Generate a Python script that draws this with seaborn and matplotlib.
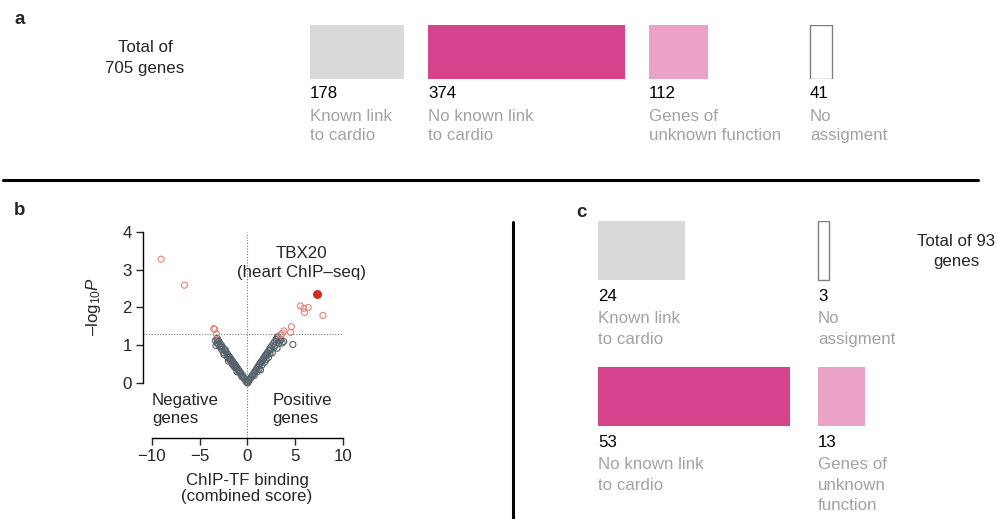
import numpy as np
import matplotlib.pyplot as plt
import seaborn as sns
from matplotlib.lines import Line2D

# ---- data ----
# panel a: all 705 genes
a_total = 705
a_counts = [178, 374, 112, 41]
a_kinds = ['known', 'noknown', 'unknown', 'none']
a_labels = ['Known link\nto cardio', 'No known link\nto cardio',
            'Genes of\nunknown function', 'No\nassigment']

# panel c: 93 genes
c_total = 93
c_counts = [24, 3, 53, 13]
c_kinds = ['known', 'none', 'noknown', 'unknown']
c_labels = ['Known link\nto cardio', 'No\nassigment',
            'No known link\nto cardio', 'Genes of\nunknown\nfunction']

# panel b: volcano (combined score, -log10 P)
gray_x = [0.0, -0.05, -0.15, -0.25, -0.35, -0.45, -0.55, -0.65, -0.75, -0.85, -0.95,
          -1.05, -1.15, -1.25, -1.35, -1.45, -1.55, -1.65, -1.75, -1.85, -1.95, -2.1,
          -2.25, -2.4, -2.55, -2.7, -2.85, -3.0, -3.1, -3.2,
          -0.6, -0.9, -1.26, -1.5, -1.78, -2.13, -2.3, -2.5, -2.7, -2.9, -3.2, -3.3,
          -3.05, -2.0, -1.6, -1.1, -1.9, -2.45, -2.75, -3.35, -1.35,
          0.05, 0.15, 0.25, 0.35, 0.45, 0.55, 0.65, 0.75, 0.85, 0.95, 1.05, 1.15, 1.25,
          1.35, 1.45, 1.55, 1.65, 1.75, 1.85, 1.95, 2.1, 2.25, 2.4, 2.55, 2.7, 2.85,
          3.0, 3.1, 3.2,
          0.7, 1.0, 1.36, 1.54, 1.8, 2.06, 2.4, 2.6, 2.8, 3.1, 3.3, 3.63, 3.8, 4.75,
          3.5, 2.2, 1.2, 1.95, 2.9, 3.4, 2.35]
gray_y = [0.0, 0.02, 0.05, 0.09, 0.13, 0.17, 0.2, 0.24, 0.28, 0.31, 0.35,
          0.39, 0.42, 0.46, 0.5, 0.53, 0.57, 0.6, 0.64, 0.68, 0.71, 0.77,
          0.82, 0.88, 0.93, 0.99, 1.04, 1.1, 1.14, 1.18,
          0.17, 0.28, 0.4, 0.47, 0.61, 0.7, 0.87, 0.8, 0.88, 0.96, 1.06, 0.99,
          1.02, 0.58, 0.5, 0.3, 0.62, 0.75, 0.95, 1.12, 0.42,
          0.02, 0.06, 0.1, 0.14, 0.18, 0.21, 0.25, 0.29, 0.33, 0.37, 0.41, 0.45, 0.49,
          0.52, 0.56, 0.6, 0.64, 0.68, 0.72, 0.76, 0.81, 0.87, 0.93, 0.98, 1.04, 1.1,
          1.15, 1.2, 1.23,
          0.2, 0.3, 0.35, 0.48, 0.55, 0.74, 0.87, 0.8, 0.95, 0.92, 1.05, 1.06, 1.1, 1.02,
          1.15, 0.68, 0.36, 0.62, 1.0, 1.12, 0.78]
red_x = [-9.04, -6.6, -3.53, -3.42, -3.25, 3.45, 3.63, 3.8, 4.5, 4.6,
         5.55, 5.9, 5.97, 6.35, 7.9]
red_y = [3.28, 2.59, 1.44, 1.42, 1.3, 1.28, 1.31, 1.38, 1.34, 1.49,
         2.04, 1.98, 1.87, 2.0, 1.79]
hit_x = [7.3]
hit_y = [2.37]
sig_line = 1.3

fill = {'known': '#d9d9d9', 'noknown': '#d4438c', 'unknown': '#eaa2c7', 'none': 'white'}
edge = {'known': 'none', 'noknown': 'none', 'unknown': 'none', 'none': '#808080'}
label_gray = '#a3a3a3'

sns.set_style('white')
plt.rcParams['font.family'] = ['Liberation Sans', 'DejaVu Sans']
plt.rcParams['mathtext.fontset'] = 'custom'
plt.rcParams['mathtext.rm'] = 'Liberation Sans'
plt.rcParams['mathtext.it'] = 'Liberation Sans:italic'
FS = 12.2

W, H = 997, 519
fig = plt.figure(figsize=(W / 100, H / 100), dpi=100)
PT = 0.72  # points per pixel


def box(x0, y0, x1, y1):
    return fig.add_axes([x0 / W, 1 - y1 / H, (x1 - x0) / W, (y1 - y0) / H])


def ptext(x, y, s, **kw):
    kw.setdefault('fontsize', FS)
    fig.text(x / W, 1 - y / H, s, **kw)


def tiles(ax, starts, rows, counts, kinds, labels, gaps, pitch):
    for s, r, n, k, lab in zip(starts, rows, counts, kinds, labels):
        ax.barh(r, n, height=1, left=s, color=fill[k], edgecolor=edge[k],
                linewidth=1.0 if k == 'none' else 0)
        y0 = r + 0.5
        ax.annotate(str(n), (s, y0), xytext=(0, -gaps[0] * PT), textcoords='offset points',
                    ha='left', va='baseline', fontsize=FS, color='black')
        for i, line in enumerate(lab.split('\n')):
            ax.annotate(line, (s, y0), xytext=(0, -(gaps[1] + i * pitch) * PT),
                        textcoords='offset points', ha='left', va='baseline',
                        fontsize=FS, color=label_gray)


# ---- panel a ----
pxg_a = 0.527
axa = box(310, 25, 997, 79)
axa.set_xlim(0, (997 - 310) / pxg_a)
axa.set_ylim(-0.5, 0.5)
axa.invert_yaxis()
a_starts = [(p - 310) / pxg_a for p in (310, 428, 649, 810)]
tiles(axa, a_starts, [0, 0, 0, 0], a_counts, a_kinds, a_labels, (19, 42), 19)
axa.axis('off')
ptext(14, 24, 'a', fontsize=13.5, fontweight='bold', ha='left', va='baseline')
ptext(145, 52, 'Total of', ha='center', va='baseline')
ptext(145, 73, f'{a_total} genes', ha='center', va='baseline')

fig.add_artist(Line2D([3 / W, 978 / W], [1 - 180 / H, 1 - 180 / H], color='black', lw=2.2))
fig.add_artist(Line2D([513 / W, 513 / W], [1 - 222 / H, 0], color='black', lw=2.2))

# ---- panel b ----
axb = box(143, 232, 343, 438)
sns.scatterplot(x=gray_x, y=gray_y, color='#56626a', s=19, linewidth=0.8,
                edgecolor='#56626a', ax=axb, zorder=3)
axb.collections[-1].set_facecolor('none')
sns.scatterplot(x=red_x, y=red_y, color='#e8837b', s=19, linewidth=0.8,
                edgecolor='#e8837b', ax=axb, zorder=4)
axb.collections[-1].set_facecolor('none')
sns.scatterplot(x=hit_x, y=hit_y, color='#d42a1f', s=42, linewidth=0,
                ax=axb, zorder=5)
axb.axvline(0, color='#777777', lw=0.8, ls=(0, (1, 1.5)), zorder=1)
axb.axhline(sig_line, color='#777777', lw=0.8, ls=(0, (1, 1.5)), zorder=1)
axb.set_xlim(-10.94, 10)
axb.set_ylim(-1.457, 4)
axb.set_xticks([-10, -5, 0, 5, 10])
axb.set_xticklabels(['\u221210', '\u22125', '0', '5', '10'])
axb.set_yticks([0, 1, 2, 3, 4])
axb.set_facecolor('none')
for side in ('top', 'right'):
    axb.spines[side].set_visible(False)
axb.spines['left'].set_bounds(0, 4)
axb.spines['bottom'].set_bounds(-10, 10)
for side in ('left', 'bottom'):
    axb.spines[side].set_linewidth(1.0)
    axb.spines[side].set_color('black')
axb.tick_params(axis='both', length=5, width=1.0, labelsize=FS, direction='out',
                left=True, bottom=True, pad=3)
axb.set_ylabel('\u2013log$_{10}$$P$', fontsize=FS)
axb.yaxis.set_label_coords(-0.2, 0.636)
axb.set_xlabel('ChIP-TF binding\n(combined score)', fontsize=FS, linespacing=1.1)
axb.xaxis.set_label_coords(0.52, -0.17)
axb.xaxis.label.set_va('top')
axb.text(5.7, 3.31, 'TBX20', ha='center', va='baseline', fontsize=FS)
axb.text(5.7, 2.81, '(heart ChIP\u2013seq)', ha='center', va='baseline', fontsize=FS)
axb.text(-10, -0.58, 'Negative', ha='left', va='baseline', fontsize=FS)
axb.text(-10, -1.06, 'genes', ha='left', va='baseline', fontsize=FS)
axb.text(2.58, -0.58, 'Positive', ha='left', va='baseline', fontsize=FS)
axb.text(2.58, -1.06, 'genes', ha='left', va='baseline', fontsize=FS)
ptext(14, 215, 'b', fontsize=13.5, fontweight='bold', ha='left', va='baseline')

# ---- panel c ----
pxg_c = 3.62
pitch_c = 146.0
row_h = 59.0
top_c = 221
axc = box(598, top_c, 997, top_c + pitch_c + row_h)
axc.set_xlim(0, (997 - 598) / pxg_c)
axc.set_ylim(-0.5 + (pitch_c + row_h) / row_h, -0.5)
c_starts = [0, (818 - 598) / pxg_c, 0, (818 - 598) / pxg_c]
c_rows = [0, 0, pitch_c / row_h, pitch_c / row_h]
tiles(axc, c_starts, c_rows, c_counts, c_kinds, c_labels, (21, 43), 20.5)
axc.axis('off')
ptext(576, 217, 'c', fontsize=13.5, fontweight='bold', ha='left', va='baseline')
ptext(956, 246, f'Total of {c_total}', ha='center', va='baseline')
ptext(956, 266, 'genes', ha='center', va='baseline')

fig.savefig('out.png', dpi=100)
